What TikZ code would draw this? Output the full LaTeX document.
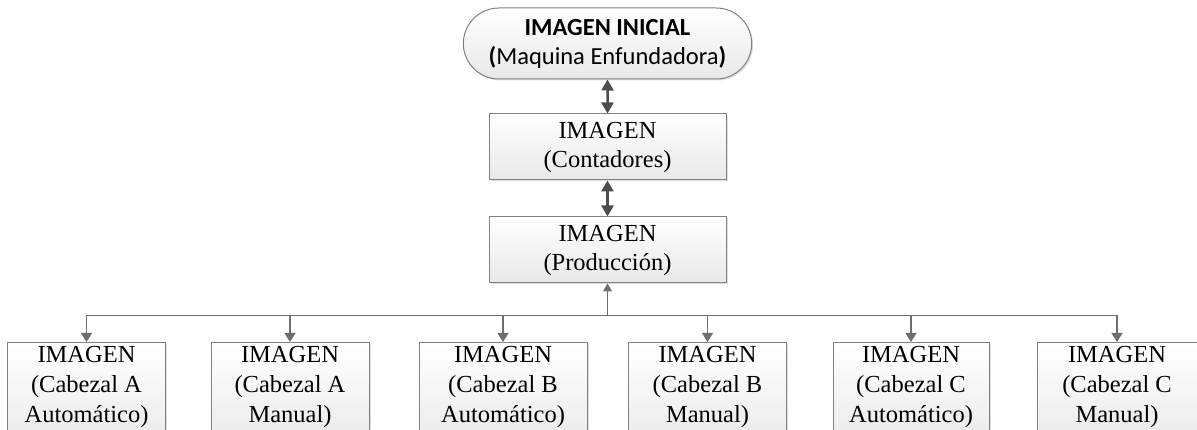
\documentclass[tikz,border=0pt]{standalone}
\usepackage{fontspec}
\setmainfont{Liberation Serif}
\newfontfamily\calibri{Carlito}
\usepackage{tikz}
\usetikzlibrary{arrows.meta,positioning,shapes.misc,shadows}

\definecolor{boxline}{HTML}{808080}
\definecolor{arrowdark}{HTML}{4D4D4D}
\definecolor{busline}{HTML}{6E6E6E}

\tikzset{
  box/.style={draw=boxline, line width=1pt, top color=white, bottom color=black!9,
    drop shadow={shadow xshift=1.5pt, shadow yshift=-1.5pt, opacity=0.25},
    align=center, font=\fontsize{24.5}{29}\selectfont},
  inicio/.style={box, rounded rectangle, minimum width=295pt, minimum height=71pt,
    font=\calibri\fontsize{24.5}{29}\selectfont},
  etapa/.style={box, minimum width=237pt, minimum height=66pt},
  cabezal/.style={box, anchor=north, minimum width=158pt, inner ysep=4pt,
    text depth=25pt, font=\fontsize{24.5}{30}\selectfont},
  dblarrow/.style={{Triangle[length=11pt,width=12pt]}-{Triangle[length=11pt,width=12pt]},
    line width=2.5pt, draw=arrowdark},
  busline/.style={line width=1.2pt, draw=busline},
  downarrow/.style={busline, -{Triangle[length=9pt,width=11pt]}},
  uparrow/.style={busline, -{Triangle[length=8pt,width=9pt]}}
}

\begin{document}
\begin{tikzpicture}[x=1pt,y=1pt]
    \useasboundingbox (0,0) rectangle (1197,-430);
    \clip (0,0) rectangle (1197,-430);

    \node[inicio] (inicial) at (607.5,-43.5) {\textbf{IMAGEN INICIAL}\\\textbf{(}Maquina Enfundadora\textbf{)}};
    \node[etapa,below=34pt of inicial] (contadores) {IMAGEN\\(Contadores)};
    \draw[dblarrow] (inicial) -- (contadores);

    \node[etapa,below=36pt of contadores] (produccion) {IMAGEN\\(Producción)};
    \draw[dblarrow] (contadores) -- (produccion);

    % cabezales
    \node[cabezal] (cabAauto) at (86.5,-342) {IMAGEN\\(Cabezal A\\Automático)};
    \node[cabezal] (cabAman) at (290,-342) {IMAGEN\\(Cabezal A\\Manual)};
    \node[cabezal,minimum width=168pt] (cabBauto) at (503,-342) {IMAGEN\\(Cabezal B\\Automático)};
    \node[cabezal] (cabBman) at (707.5,-342) {IMAGEN\\(Cabezal B\\Manual)};
    \node[cabezal,minimum width=156pt] (cabCauto) at (911,-342) {IMAGEN\\(Cabezal C\\Automático)};
    \node[cabezal,minimum width=160pt] (cabCman) at (1117,-342) {IMAGEN\\(Cabezal C\\Manual)};

    \coordinate[below=32pt of produccion] (bus);
    \draw[uparrow] (bus) -- (produccion);
    \draw[busline] (bus -| cabAauto.north) -- (bus -| cabCman.north);

    \draw[downarrow] (bus -| cabAauto.north) -- (cabAauto.north);
    \draw[downarrow] (bus -| cabAman.north) -- (cabAman.north);
    \draw[downarrow] (bus -| cabBauto.north) -- (cabBauto.north);
    \draw[downarrow] (bus -| cabBman.north) -- (cabBman.north);
    \draw[downarrow] (bus -| cabCauto.north) -- (cabCauto.north);
    \draw[downarrow] (bus -| cabCman.north) -- (cabCman.north);
\end{tikzpicture}
\end{document}
